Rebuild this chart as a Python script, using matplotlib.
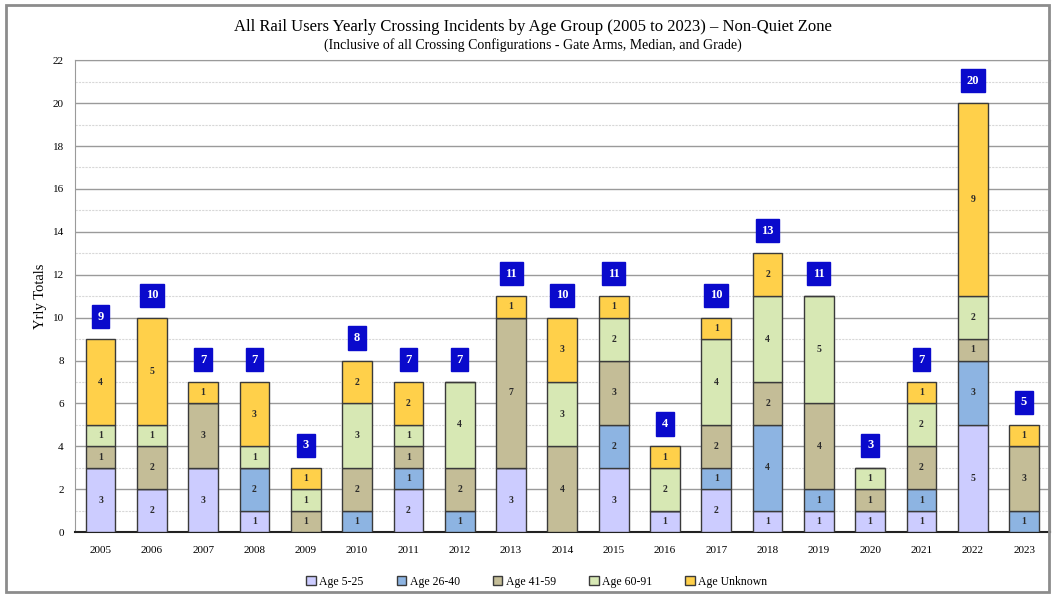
import matplotlib
matplotlib.use("Agg")
import matplotlib.pyplot as plt
from matplotlib.patches import Rectangle
import numpy as np

plt.rcParams['font.family'] = ['Liberation Serif', 'DejaVu Serif']

years = [str(y) for y in range(2005, 2024)]
age_5_25 = [3, 2, 3, 1, 0, 0, 2, 0, 3, 0, 3, 1, 2, 1, 1, 1, 1, 5, 0]
age_26_40 = [0, 0, 0, 2, 0, 1, 1, 1, 0, 0, 2, 0, 1, 4, 1, 0, 1, 3, 1]
age_41_59 = [1, 2, 3, 0, 1, 2, 1, 2, 7, 4, 3, 0, 2, 2, 4, 1, 2, 1, 3]
age_60_91 = [1, 1, 0, 1, 1, 3, 1, 4, 0, 3, 2, 2, 4, 4, 5, 1, 2, 2, 0]
age_unknown = [4, 5, 1, 3, 1, 2, 2, 0, 1, 3, 1, 1, 1, 2, 0, 0, 1, 9, 1]

series = [
    ("Age 5-25", age_5_25, "#CCCCFF"),
    ("Age 26-40", age_26_40, "#8DB4E2"),
    ("Age 41-59", age_41_59, "#C4BD97"),
    ("Age 60-91", age_60_91, "#D7E8B4"),
    ("Age Unknown", age_unknown, "#FFD04A"),
]

fig = plt.figure(figsize=(10.55, 5.96), dpi=100)
ax = fig.add_axes([0.071, 0.107, 0.924, 0.792])

x = np.arange(len(years))
bottom = np.zeros(len(years))
for name, vals, color in series:
    vals = np.array(vals)
    ax.bar(x, vals, 0.58, bottom=bottom, color=color, edgecolor="#3a3a3a",
           linewidth=1.0, label=name, zorder=3)
    for xi, v, b in zip(x, vals, bottom):
        if v > 0:
            ax.text(xi, b + v / 2, str(v), ha="center", va="center",
                    fontsize=7, fontweight="bold", color="#2b2b2b", zorder=4)
    bottom += vals

# totals in blue boxes above each stack
for xi, t in zip(x, bottom):
    ax.text(xi, t + 1.05, str(int(t)), ha="center", va="center", fontsize=9,
            fontweight="bold", color="white", zorder=5,
            bbox=dict(boxstyle="square,pad=0.45", facecolor="#0A0ACC",
                      edgecolor="#0A0ACC"))

ax.set_xlim(-0.5, len(years) - 0.5)
ax.set_ylim(0, 22)
ax.set_yticks(range(0, 23, 2))
ax.set_yticks(range(1, 22, 2), minor=True)
ax.set_xticks(x)
ax.set_xticklabels(years)
ax.tick_params(axis="both", labelsize=8, length=0)
ax.tick_params(axis="x", pad=10)
ax.tick_params(axis="y", pad=8)
ax.tick_params(axis="y", which="minor", length=0)
ax.grid(axis="y", which="major", color="#9a9a9a", linewidth=1.0, zorder=0)
ax.grid(axis="y", which="minor", color="#d8d8d8", linewidth=0.8,
        linestyle=(0, (2, 1)), zorder=0)
for side in ["top", "right", "left"]:
    ax.spines[side].set_color("#9a9a9a")
ax.spines["bottom"].set_color("#222222")
ax.spines["bottom"].set_linewidth(1.5)
ax.set_ylabel("Yrly Totals", fontsize=10.5, labelpad=4)

fig.text(0.505, 0.955, "All Rail Users Yearly Crossing Incidents by Age Group (2005 to 2023) \u2013 Non-Quiet Zone",
         ha="center", va="center", fontsize=12)
fig.text(0.505, 0.925, "(Inclusive of all Crossing Configurations - Gate Arms, Median, and Grade)",
         ha="center", va="center", fontsize=10)

ax.legend(loc="upper center", bbox_to_anchor=(0.474, -0.07), ncol=5, frameon=False,
          fontsize=8.5, handlelength=0.8, handleheight=0.8, handletextpad=0.3,
          columnspacing=2.8)

# outer frame
fig.patches.append(Rectangle((0.006, 0.006), 0.988, 0.985, transform=fig.transFigure,
                             fill=False, edgecolor="#8c8c8c", linewidth=2.0))

fig.savefig("out.png", dpi=100)
